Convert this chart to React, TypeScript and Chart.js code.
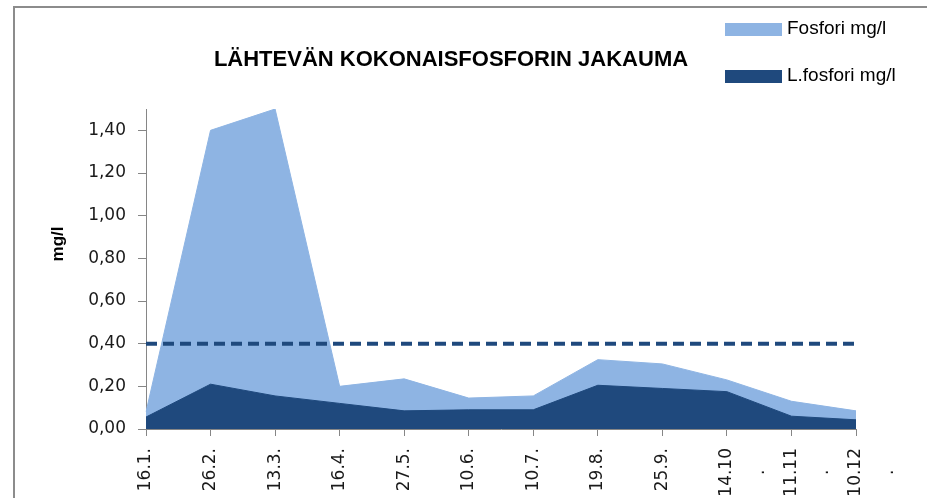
import React, { useEffect, useRef } from "react";
import { Chart, registerables } from "chart.js";

Chart.register(...registerables);

const categories = ["16.1.", "26.2.", "13.3.", "16.4.", "27.5.", "10.6.", "10.7.", "19.8.", "25.9.", "14.10.", "11.11.", "10.12."];
const fosfori = [0.08, 1.40, 1.50, 0.20, 0.235, 0.145, 0.155, 0.325, 0.305, 0.23, 0.13, 0.085];
const lFosfori = [0.056, 0.21, 0.155, 0.12, 0.085, 0.09, 0.09, 0.205, 0.19, 0.175, 0.06, 0.043];
const limitValue = 0.4;
const limit = categories.map(() => limitValue);

const titleText = "LÄHTEVÄN KOKONAISFOSFORIN JAKAUMA";
const yTitle = "mg/l";
const legendLabels = ["Fosfori mg/l", "L.fosfori mg/l"];

const LIGHT = "#8EB4E3";
const DARK = "#1F497D";
const AXIS = "#868686";

const decorPlugin = {
  id: "decor",
  beforeDraw(chart: any) {
    const ctx = chart.ctx;
    ctx.save();
    ctx.fillStyle = "#ffffff";
    ctx.fillRect(0, 0, chart.width, chart.height);
    ctx.fillStyle = "#8c8c8c";
    ctx.fillRect(13, 6, chart.width - 13, 2);
    ctx.fillRect(13, 6, 2, chart.height - 6);
    ctx.restore();
  },
  afterDraw(chart: any) {
    const ctx = chart.ctx;
    ctx.save();
    ctx.fillStyle = "#000000";
    ctx.font = "bold 22px 'Liberation Sans', Arial, sans-serif";
    ctx.textAlign = "center";
    ctx.textBaseline = "alphabetic";
    ctx.fillText(titleText, 451, 66);
    ctx.save();
    ctx.translate(58, 244);
    ctx.rotate(-Math.PI / 2);
    ctx.font = "bold 17px 'Liberation Sans', Arial, sans-serif";
    ctx.textBaseline = "middle";
    ctx.fillText(yTitle, 0, 0);
    ctx.restore();
    const colors = [LIGHT, DARK];
    const ys = [29, 76];
    ctx.font = "19px 'Liberation Sans', Arial, sans-serif";
    ctx.textAlign = "left";
    ctx.textBaseline = "middle";
    for (let i = 0; i < 2; i++) {
      ctx.fillStyle = colors[i];
      ctx.fillRect(725, ys[i] - 6, 57, 13);
      ctx.fillStyle = "#000000";
      ctx.fillText(legendLabels[i], 787, ys[i]);
    }
    ctx.restore();
  },
};

export default function App() {
  const ref = useRef<HTMLCanvasElement>(null);
  useEffect(() => {
    if (!ref.current) return;
    const chart = new Chart(ref.current, {
      type: "line",
      data: {
        labels: categories,
        datasets: [
          {
            label: "raja",
            data: limit,
            borderColor: DARK,
            borderWidth: 4,
            borderDash: [11, 6],
            pointRadius: 0,
            fill: false,
          },
          {
            label: legendLabels[1],
            data: lFosfori,
            borderColor: DARK,
            backgroundColor: DARK,
            borderWidth: 1,
            pointRadius: 0,
            fill: "origin",
          },
          {
            label: legendLabels[0],
            data: fosfori,
            borderColor: LIGHT,
            backgroundColor: LIGHT,
            borderWidth: 1,
            pointRadius: 0,
            fill: "origin",
          },
        ],
      },
      options: {
        responsive: false,
        animation: false,
        devicePixelRatio: 1,
        layout: { padding: { top: 109, right: 71, left: 0, bottom: 0 } },
        plugins: {
          legend: { display: false },
          title: { display: false },
          tooltip: { enabled: false },
        },
        scales: {
          x: {
            offset: false,
            grid: { drawOnChartArea: false, drawTicks: true, tickLength: 7, color: AXIS },
            border: { color: AXIS, width: 1 },
            ticks: {
              minRotation: 90,
              maxRotation: 90,
              autoSkip: false,
              padding: 12,
              color: "#1a1a1a",
              font: { family: "'DejaVu Sans', sans-serif", size: 17, lineHeight: 1.9 },
              callback: function (this: any, value: any) {
                const lbl = categories[value as number];
                if (lbl.length > 5) return [lbl.slice(0, -1), "." + "\u00a0\u00a0\u00a0\u00a0"];
                return lbl;
              },
            },
            afterFit(scale: any) {
              scale.height = 69;
              scale.paddingLeft = 0;
              scale.paddingRight = 0;
            },
          },
          y: {
            min: 0,
            max: 1.5,
            grid: { drawOnChartArea: false, drawTicks: true, tickLength: 8, color: AXIS },
            border: { color: AXIS, width: 1 },
            ticks: {
              stepSize: 0.2,
              padding: 12,
              color: "#1a1a1a",
              font: { family: "'DejaVu Sans', sans-serif", size: 17 },
              callback: (v: any) => Number(v).toFixed(2).replace(".", ","),
            },
            afterBuildTicks(scale: any) {
              scale.ticks = scale.ticks.filter((t: any) => t.value <= 1.4 + 1e-9);
            },
            afterFit(scale: any) {
              scale.width = 146;
            },
          },
        },
      },
      plugins: [decorPlugin],
    });
    return () => chart.destroy();
  }, []);
  return (
    <div style={{ position: "absolute", left: 0, top: 0, width: 927, height: 498 }}>
      <canvas ref={ref} width={927} height={498} />
    </div>
  );
}
